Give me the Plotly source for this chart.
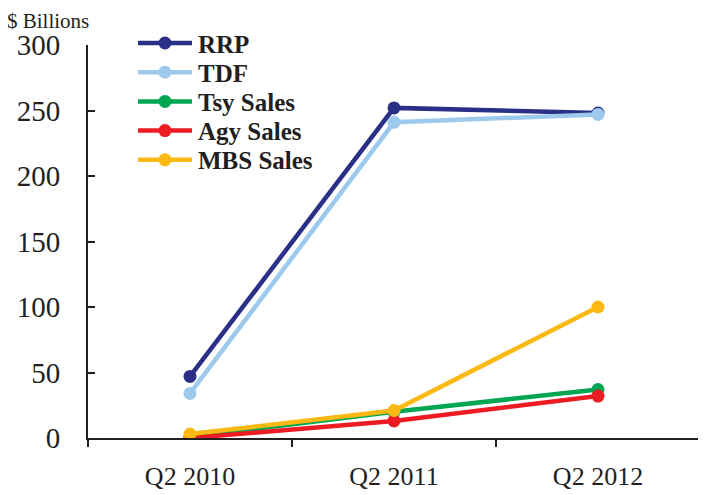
import plotly.graph_objects as go

categories = ["Q2 2010", "Q2 2011", "Q2 2012"]
rrp = [47, 252, 248]
tdf = [34, 241, 247]
tsy_sales = [1, 20, 37]
agy_sales = [0, 13, 32]
mbs_sales = [3, 21, 100]

series = [
    ("RRP", rrp, "#2B3087"),
    ("TDF", tdf, "#9DC9EC"),
    ("Tsy Sales", tsy_sales, "#00A651"),
    ("Agy Sales", agy_sales, "#ED1C24"),
    ("MBS Sales", mbs_sales, "#FDB913"),
]

fig = go.Figure()
for name, vals, color in series:
    fig.add_trace(go.Scatter(
        x=categories, y=vals, name=name, mode="lines+markers",
        line=dict(color=color, width=4.5),
        marker=dict(color=color, size=13),
        showlegend=False,
    ))

serif = "Liberation Serif, Times New Roman, serif"
# page body adds an 8px offset; figure size compensates
W, H = 698, 487
L, R, T, B = 80, 6, 37, 57
pw = W - L - R
ph = H - T - B


def px_x(px):
    return (px - 8 - L) / pw


def px_y(py):
    return 1 - (py - 8 - T) / ph


# manual legend (sample line + marker + bold label)
shapes = []
annotations = []
for i, (name, vals, color) in enumerate(series):
    yc = 43 + 29.2 * i
    shapes.append(dict(type="line", xref="paper", yref="paper",
                       x0=px_x(138), x1=px_x(192), y0=px_y(yc), y1=px_y(yc),
                       line=dict(color=color, width=4.5)))
    shapes.append(dict(type="circle", xref="paper", yref="paper",
                       x0=px_x(165 - 6.5), x1=px_x(165 + 6.5),
                       y0=px_y(yc + 6.5), y1=px_y(yc - 6.5),
                       fillcolor=color, line=dict(color=color, width=0)))
    annotations.append(dict(text=name, xref="paper", yref="paper",
                            x=px_x(196), y=px_y(yc + 1), xanchor="left", yanchor="middle",
                            showarrow=False,
                            font=dict(family=serif, size=25, color="#231F20", weight="bold")))

annotations.append(dict(
    text="$ Billions",
    x=px_x(6), y=px_y(21),
    xref="paper", yref="paper",
    showarrow=False, xanchor="left", yanchor="middle", borderpad=0,
    font=dict(family=serif, size=21, color="#231F20"),
))

fig.update_layout(
    width=W, height=H,
    margin=dict(l=L, r=R, t=T, b=B),
    plot_bgcolor="white", paper_bgcolor="white",
    font=dict(family=serif, color="#231F20"),
    showlegend=False,
    xaxis=dict(
        type="category", range=[-0.5, 2.5],
        showgrid=False, zeroline=False, automargin=False,
        showline=True, linecolor="#231F20", linewidth=1.5,
        ticks="outside", tickson="boundaries", ticklen=7, tickwidth=1.5, tickcolor="#231F20",
        tickfont=dict(family=serif, size=26, color="#231F20"),
        ticklabelstandoff=14,
    ),
    yaxis=dict(
        range=[0, 300], tickvals=[0, 50, 100, 150, 200, 250, 300],
        showgrid=False, zeroline=False, automargin=False,
        showline=True, linecolor="#231F20", linewidth=2,
        ticks="inside", ticklen=7, tickwidth=1.5, tickcolor="#231F20",
        tickfont=dict(family=serif, size=29, color="#231F20"),
        ticklabelstandoff=20,
    ),
    shapes=shapes,
    annotations=annotations,
)

fig.write_html("out.html")
